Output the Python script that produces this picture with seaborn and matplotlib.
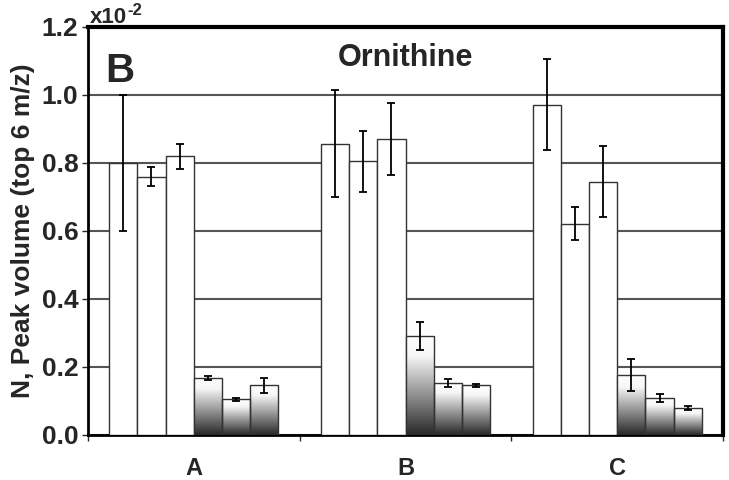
import numpy as np
import pandas as pd
import matplotlib
matplotlib.use("Agg")
import matplotlib.pyplot as plt
import matplotlib.transforms as mtransforms
import seaborn as sns
from matplotlib.colors import LinearSegmentedColormap

# values in units of 1e-2
groups = ["A", "B", "C"]
series = ["1", "2", "3", "4", "5", "6"]
mean_1 = [0.800, 0.857, 0.971]
mean_2 = [0.760, 0.805, 0.621]
mean_3 = [0.820, 0.871, 0.745]
mean_4 = [0.168, 0.291, 0.176]
mean_5 = [0.105, 0.154, 0.108]
mean_6 = [0.146, 0.146, 0.079]
err_1 = [0.200, 0.157, 0.134]
err_2 = [0.027, 0.090, 0.049]
err_3 = [0.037, 0.105, 0.104]
err_4 = [0.005, 0.040, 0.048]
err_5 = [0.005, 0.012, 0.012]
err_6 = [0.022, 0.005, 0.007]

means = [mean_1, mean_2, mean_3, mean_4, mean_5, mean_6]
errs = [err_1, err_2, err_3, err_4, err_5, err_6]

df = pd.DataFrame({
    "group": np.tile(groups, len(series)),
    "series": np.repeat(series, len(groups)),
    "value": np.concatenate(means),
})

sns.set_style("white")
plt.rcParams["font.family"] = ["Liberation Sans", "DejaVu Sans"]
plt.rcParams["font.weight"] = "bold"

fig = plt.figure(figsize=(7.29, 4.8), dpi=100)
ax = fig.add_axes([0.1207, 0.0938, 0.8711, 0.85])

ax.yaxis.grid(True, color="#555555", lw=1.5)
ax.set_axisbelow(True)

sns.barplot(data=df, x="group", y="value", hue="series",
            palette=["white"] * 6, edgecolor="#333333", linewidth=1,
            width=0.8, errorbar=None, legend=False, ax=ax, zorder=3)

# gradient fill for the last three series
cmap = LinearSegmentedColormap.from_list(
    "grad", [(0, "#ffffff"), (0.2, "#f6f6f6"), (1, "#282828")])
grad = np.linspace(0, 1, 256).reshape(-1, 1)
bar_conts = list(ax.containers)
for i, cont in enumerate(bar_conts):
    xs = []
    hs = []
    for p in cont.patches:
        x0, w, h = p.get_x(), p.get_width(), p.get_height()
        xs.append(x0 + w / 2)
        hs.append(h)
        if i >= 3:
            p.set_facecolor("none")
            p.set_zorder(3.2)
            im = ax.imshow(grad, extent=[x0, x0 + w, 0, h], aspect="auto",
                           cmap=cmap, origin="upper", zorder=3.1,
                           interpolation="bilinear")
            im.set_clip_path(p)
    ax.errorbar(xs, hs, yerr=errs[i], fmt="none", ecolor="black",
                elinewidth=1.3, capsize=3, capthick=1.3, zorder=4)

ax.set_xlim(-0.5, 2.5)
ax.set_ylim(0, 1.2)
ax.set_yticks([0, 0.2, 0.4, 0.6, 0.8, 1.0, 1.2])
ax.set_yticklabels([f"{v:.1f}" for v in [0, 0.2, 0.4, 0.6, 0.8, 1.0, 1.2]],
                   fontsize=19, fontweight="bold")
ax.set_xticks([0, 1, 2])
ax.set_xticklabels(groups, fontsize=17, fontweight="bold")
shift = mtransforms.ScaledTranslation(6 / 100, 0, fig.dpi_scale_trans)
for lab in ax.get_xticklabels():
    lab.set_transform(lab.get_transform() + shift)
ax.set_xticks([-0.5, 0.5, 1.5, 2.5], minor=True)
ax.tick_params(axis="x", which="major", length=0, pad=16)
ax.tick_params(axis="x", which="minor", length=4, width=1, direction="out",
               bottom=True)
ax.tick_params(axis="y", length=4, width=1, direction="out", left=True, pad=3)
ax.set_xlabel("")
ax.set_ylabel("N, Peak volume (top 6 m/z)", fontsize=19, fontweight="bold",
              labelpad=5)

for side, lw in [("left", 2), ("bottom", 2), ("top", 3), ("right", 3)]:
    ax.spines[side].set_visible(True)
    ax.spines[side].set_color("black")
    ax.spines[side].set_linewidth(lw)

ax.text(0.027, 0.865, "B", transform=ax.transAxes, fontsize=29,
        fontweight="bold", va="baseline")
ax.text(0.5, 0.905, "Ornithine", transform=ax.transAxes, fontsize=22,
        fontweight="bold", ha="center", va="baseline")
fig.text(0.123, 0.952, "x10", fontsize=16, fontweight="bold", va="baseline")
fig.text(0.175, 0.968, "-2", fontsize=12, fontweight="bold", va="baseline")

fig.savefig("out.png", dpi=100)
